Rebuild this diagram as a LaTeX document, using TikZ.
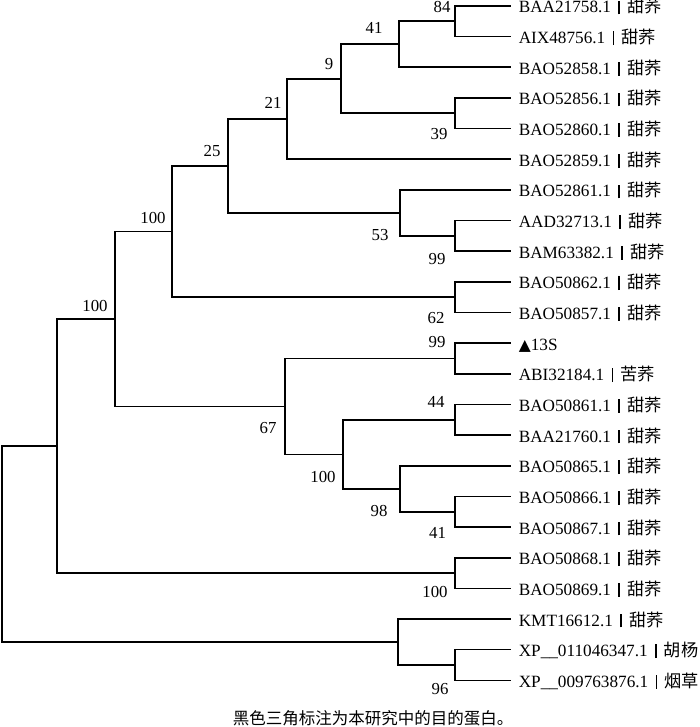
\documentclass[tikz,border=0pt]{standalone}
\usepackage{fontspec}
\setmainfont{Liberation Serif}
\newfontfamily\cjk{Noto Sans CJK SC}
\newfontfamily\dejavu{DejaVu Sans}
\newcommand\sepbar{\hspace{0.42em}\rule[-0.08em]{0.1em}{0.8em}\hspace{0.42em}}
\newcommand\tq{{\cjk 甜荞}}
\newcommand\tri{{\dejavu\fontsize{7.8pt}{8pt}\selectfont ▲}}
\begin{document}
\begin{tikzpicture}[x=0.5pt,y=-0.5pt,line width=0.8pt,
  leaf/.style={anchor=base west,inner sep=0pt,font=\fontsize{8.6pt}{10pt}\selectfont},
  bs/.style={inner sep=0pt,font=\fontsize{8.4pt}{10pt}\selectfont},
  branch/.style={draw=black,line join=miter}]
\useasboundingbox (0,0) rectangle (700,727);
% leaf tips
\foreach \i in {1,...,23}{\coordinate (L\i) at (511,{6+30.65*(\i-1)});}
% internal nodes
\coordinate (n84) at (455,21.3);
\coordinate (n41) at (399,44.3);
\coordinate (n39) at (455,113.3);
\coordinate (n9) at (341,78.8);
\coordinate (n21) at (287,119);
\coordinate (n99a) at (455,235.9);
\coordinate (n53) at (400,212.9);
\coordinate (n25) at (228,166);
\coordinate (n62) at (455,297.2);
\coordinate (n100b) at (172,231.6);
\coordinate (n99b) at (455,358.5);
\coordinate (n44) at (455,419.8);
\coordinate (n41b) at (455,511.7);
\coordinate (n98) at (400,488.7);
\coordinate (n100c) at (343,454.3);
\coordinate (n67) at (285,406.4);
\coordinate (n100a) at (115,319);
\coordinate (n100d) at (455,573);
\coordinate (n100top) at (57,446);
\coordinate (n96) at (455,665);
\coordinate (nout) at (398,642);
\coordinate (root) at (2,544);
% branches
\draw[branch] (n84) |- (L1) (n84) |- (L2);
\draw[branch] (n41) |- (n84) (n41) |- (L3);
\draw[branch] (n39) |- (L4) (n39) |- (L5);
\draw[branch] (n9) |- (n41) (n9) |- (n39);
\draw[branch] (n21) |- (n9) (n21) |- (L6);
\draw[branch] (n99a) |- (L8) (n99a) |- (L9);
\draw[branch] (n53) |- (L7) (n53) |- (n99a);
\draw[branch] (n25) |- (n21) (n25) |- (n53);
\draw[branch] (n62) |- (L10) (n62) |- (L11);
\draw[branch] (n100b) |- (n25) (n100b) |- (n62);
\draw[branch] (n99b) |- (L12) (n99b) |- (L13);
\draw[branch] (n44) |- (L14) (n44) |- (L15);
\draw[branch] (n41b) |- (L17) (n41b) |- (L18);
\draw[branch] (n98) |- (L16) (n98) |- (n41b);
\draw[branch] (n100c) |- (n44) (n100c) |- (n98);
\draw[branch] (n67) |- (n99b) (n67) |- (n100c);
\draw[branch] (n100a) |- (n100b) (n100a) |- (n67);
\draw[branch] (n100d) |- (L19) (n100d) |- (L20);
\draw[branch] (n100top) |- (n100a) (n100top) |- (n100d);
\draw[branch] (n96) |- (L22) (n96) |- (L23);
\draw[branch] (nout) |- (L21) (nout) |- (n96);
\draw[branch] (root) |- (n100top) (root) |- (nout);
% leaf labels
\node[leaf] (T1) at ([shift={(7,7)}]L1) {BAA21758.1\sepbar\tq};
\node[leaf] (T2) at ([shift={(7,7)}]L2) {AIX48756.1\sepbar\tq};
\node[leaf] (T3) at ([shift={(7,7)}]L3) {BAO52858.1\sepbar\tq};
\node[leaf] (T4) at ([shift={(7,7)}]L4) {BAO52856.1\sepbar\tq};
\node[leaf] (T5) at ([shift={(7,7)}]L5) {BAO52860.1\sepbar\tq};
\node[leaf] (T6) at ([shift={(7,7)}]L6) {BAO52859.1\sepbar\tq};
\node[leaf] (T7) at ([shift={(7,7)}]L7) {BAO52861.1\sepbar\tq};
\node[leaf] (T8) at ([shift={(7,7)}]L8) {AAD32713.1\sepbar\tq};
\node[leaf] (T9) at ([shift={(7,7)}]L9) {BAM63382.1\sepbar\tq};
\node[leaf] (T10) at ([shift={(7,7)}]L10) {BAO50862.1\sepbar\tq};
\node[leaf] (T11) at ([shift={(7,7)}]L11) {BAO50857.1\sepbar\tq};
\node[leaf] (T12) at ([shift={(7,7)}]L12) {\tri 13S};
\node[leaf] (T13) at ([shift={(7,7)}]L13) {ABI32184.1\sepbar{\cjk 苦荞}};
\node[leaf] (T14) at ([shift={(7,7)}]L14) {BAO50861.1\sepbar\tq};
\node[leaf] (T15) at ([shift={(7,7)}]L15) {BAA21760.1\sepbar\tq};
\node[leaf] (T16) at ([shift={(7,7)}]L16) {BAO50865.1\sepbar\tq};
\node[leaf] (T17) at ([shift={(7,7)}]L17) {BAO50866.1\sepbar\tq};
\node[leaf] (T18) at ([shift={(7,7)}]L18) {BAO50867.1\sepbar\tq};
\node[leaf] (T19) at ([shift={(7,7)}]L19) {BAO50868.1\sepbar\tq};
\node[leaf] (T20) at ([shift={(7,7)}]L20) {BAO50869.1\sepbar\tq};
\node[leaf] (T21) at ([shift={(7,7)}]L21) {KMT16612.1\sepbar\tq};
\node[leaf] (T22) at ([shift={(7,7)}]L22) {XP\_\_011046347.1\sepbar{\cjk 胡杨}};
\node[leaf] (T23) at ([shift={(7,7)}]L23) {XP\_\_009763876.1\sepbar{\cjk 烟草}};
% bootstrap values
\node[bs] (b84) at (442,6.7) {84};
\node[bs] (b41) at (374,27.7) {41};
\node[bs] (b9) at (329,64.3) {9};
\node[bs] (b21) at (273,103.3) {21};
\node[bs] (b25) at (212,150.7) {25};
\node[bs] (b100b) at (153,218) {100};
\node[bs] (b100a) at (95,306) {100};
\node[bs] (b39) at (439,134) {39};
\node[bs] (b53) at (380,235.3) {53};
\node[bs] (b99a) at (437,259.3) {99};
\node[bs] (b62) at (436,318) {62};
\node[bs] (b99b) at (437,341.7) {99};
\node[bs] (b44) at (436,401.7) {44};
\node[bs] (b67) at (268,428) {67};
\node[bs] (b100c) at (323,476.7) {100};
\node[bs] (b98) at (379,511) {98};
\node[bs] (b41b) at (437.5,533.3) {41};
\node[bs] (b100d) at (435,591.7) {100};
\node[bs] (b96) at (440,689.3) {96};
% caption
\node[anchor=west,inner sep=0pt,font=\cjk\fontsize{8.25pt}{10pt}\selectfont] (cap) at (232,718.5) {黑色三角标注为本研究中的目的蛋白。};
\end{tikzpicture}
\end{document}
